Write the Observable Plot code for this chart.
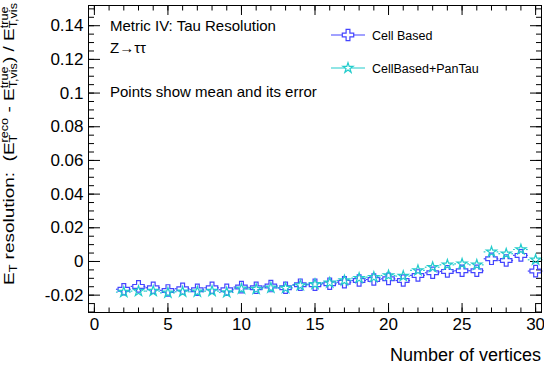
<!DOCTYPE html>
<html><head><meta charset="utf-8">
<script src="https://cdn.jsdelivr.net/npm/d3@7"></script>
<script src="https://cdn.jsdelivr.net/npm/@observablehq/plot@0.6"></script>
<style>
body{margin:0;background:#fff}
svg text{font-family:"Liberation Sans",Arial,Helvetica,sans-serif}
</style>
</head><body><div id="chart"></div>
<script>
// ---- data ----
const vertices = [2,3,4,5,6,7,8,9,10,11,12,13,14,15,16,17,18,19,20,21,22,23,24,25,26,27,28,29,30];
const cellBased = [-0.0165,-0.0148,-0.0156,-0.0172,-0.0162,-0.0168,-0.0156,-0.0168,-0.0152,-0.0156,-0.0146,-0.0156,-0.0138,-0.0138,
  -0.0132,-0.0123,-0.0113,-0.0107,-0.0103,-0.0113,-0.0083,-0.0067,-0.0059,-0.0055,-0.0055,0.0016,0.0006,0.0036,-0.0057];
const cellBasedPanTau = [-0.0182,-0.0176,-0.0176,-0.0186,-0.0180,-0.0180,-0.0176,-0.0184,-0.0162,-0.0164,-0.0156,-0.0158,-0.0142,-0.0135,
  -0.0126,-0.0113,-0.0099,-0.0093,-0.0083,-0.0087,-0.0053,-0.0034,-0.0020,-0.0014,-0.0020,0.0057,0.0046,0.0071,0.0010];
const seriesNames = ["Cell Based","CellBased+PanTau"];
const seriesColors = ["#4444ff","#22cccc"];
const xMajorTicks = [0,5,10,15,20,25,30];
const xTickLabels = ["0","5","10","15","20","25","30"];
const yMajorTicks = [-0.02,0,0.02,0.04,0.06,0.08,0.1,0.12,0.14];
const yTickLabels = ["-0.02","0","0.02","0.04","0.06","0.08","0.1","0.12","0.14"];
const annotations = ["Metric IV: Tau Resolution","Z\u2192\u03c4\u03c4","Points show mean and its error"];
const xTitle = "Number of vertices";
const yTitleParts = ["E",{sub:"T"}," resolution:  (","E",{sup:"reco",sub:"T"}," - ","E",{sup:"true",sub:"T,vis"},") / ","E",{sup:"true",sub:"T,vis"}];

// ---- build ----
const xMinor = d3.range(0, 31, 1);
const yMinor = d3.range(-6, 31).map(k => k * 0.005);
const rowsA = vertices.map((v, i) => ({v, y: cellBased[i]}));
const rowsB = vertices.map((v, i) => ({v, y: cellBasedPanTau[i]}));
const lab = (ticks, labels) => d => labels[ticks.findIndex(t => Math.abs(t - d) < 1e-9)];
const FONT = '"Liberation Sans",Arial,Helvetica,sans-serif';
const rCross = 4.8, rStar = 3.2;
const gap = 0.38;

function errBars(rows, color) {
  return [
    Plot.ruleY(rows, {y: "y", x1: d => d.v - 0.5, x2: d => d.v - gap, stroke: color, strokeWidth: 1.2}),
    Plot.ruleY(rows, {y: "y", x1: d => d.v + gap, x2: d => d.v + 0.5, stroke: color, strokeWidth: 1.2})
  ];
}

const plot = Plot.plot({
  width: 544, height: 371,
  marginLeft: 88, marginRight: 3, marginTop: 5, marginBottom: 59,
  x: {domain: [-0.4, 30.4]},
  y: {domain: [-0.0303, 0.152]},
  style: {fontFamily: FONT, color: "black", background: "white", overflow: "visible"},
  marks: [
    Plot.axisY({anchor: "left", ticks: yMajorTicks, tickSize: -12, tickPadding: 17, tickFormat: lab(yMajorTicks, yTickLabels), fontSize: 17, label: null}),
    Plot.axisY({anchor: "left", ticks: yMinor, tickSize: -6, text: null, label: null}),
    Plot.axisY({anchor: "right", ticks: yMajorTicks, tickSize: -12, text: null, label: null}),
    Plot.axisY({anchor: "right", ticks: yMinor, tickSize: -6, text: null, label: null}),
    Plot.axisX({anchor: "bottom", ticks: xMajorTicks, tickSize: -9, tickPadding: 14, tickFormat: lab(xMajorTicks, xTickLabels), fontSize: 17, label: null}),
    Plot.axisX({anchor: "bottom", ticks: xMinor, tickSize: -4.5, text: null, label: null}),
    Plot.axisX({anchor: "top", ticks: xMajorTicks, tickSize: -9, text: null, label: null}),
    Plot.axisX({anchor: "top", ticks: xMinor, tickSize: -4.5, text: null, label: null}),
    ...errBars(rowsA, seriesColors[0]),
    Plot.dot(rowsA, {x: "v", y: "y", symbol: "cross", r: rCross, stroke: seriesColors[0], fill: "none", strokeWidth: 1.2}),
    ...errBars(rowsB, seriesColors[1]),
    Plot.dot(rowsB, {x: "v", y: "y", symbol: "star", r: rStar, stroke: seriesColors[1], fill: "none", strokeWidth: 1.2}),
    Plot.frame({stroke: "black", strokeWidth: 1})
  ]
});
document.getElementById("chart").appendChild(plot);

const svg = d3.select(plot);
const ov = svg.append("g").attr("font-family", FONT).attr("fill", "black")
  .attr("text-anchor", "start").style("white-space", "pre");

// annotations
const annY = [30.5, 52.5, 97];
annotations.forEach((t, i) => ov.append("text").attr("x", 110).attr("y", annY[i]).attr("font-size", 15).text(t));

// legend
const legY = [35, 68];
const symbols = [d3.symbolCross, d3.symbolStar];
const rs = [rCross, rStar];
seriesNames.forEach((name, i) => {
  ov.append("line").attr("x1", 331).attr("x2", 365).attr("y1", legY[i]).attr("y2", legY[i])
    .attr("stroke", seriesColors[i]).attr("stroke-width", 1.2);
  ov.append("path").attr("transform", `translate(348,${legY[i]})`)
    .attr("d", d3.symbol(symbols[i], Math.PI * rs[i] * rs[i])())
    .attr("fill", "white").attr("stroke", seriesColors[i]).attr("stroke-width", 1.2);
  ov.append("text").attr("x", 372).attr("y", legY[i] + 4.5).attr("font-size", 12.5).text(name);
});

// x title
ov.append("text").attr("x", 541).attr("y", 361).attr("text-anchor", "end").attr("font-size", 18).text(xTitle);

// y title (rich text, rotated)
function rich(g, parts, base, small, supDy, subDy) {
  let x = 0;
  for (const p of parts) {
    if (typeof p === "string") {
      const t = g.append("text").attr("x", x).attr("font-size", base).text(p);
      x += t.node().getComputedTextLength();
    } else {
      let w = 0;
      if (p.sup) { const t = g.append("text").attr("x", x).attr("y", supDy).attr("font-size", small).text(p.sup); w = Math.max(w, t.node().getComputedTextLength()); }
      if (p.sub) { const t = g.append("text").attr("x", x).attr("y", subDy).attr("font-size", small).text(p.sub); w = Math.max(w, t.node().getComputedTextLength()); }
      x += w;
    }
  }
  return x;
}
const yt = ov.append("g");
const total = rich(yt, yTitleParts, 15, 10, -6.5, 3);
const sx = 282 / total;
yt.attr("transform", `translate(14,${3 + total * sx}) rotate(-90) scale(${sx},1)`);
</script>
</body></html>
